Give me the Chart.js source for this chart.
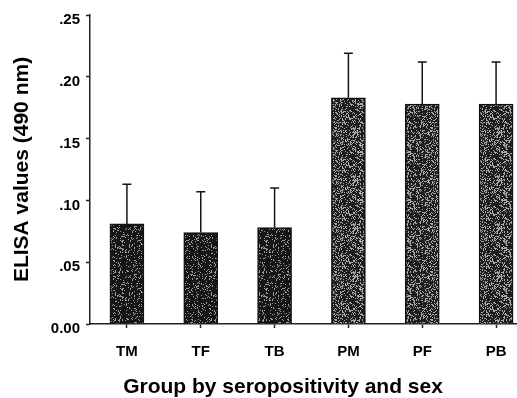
<!DOCTYPE html>
<html>
<head>
<meta charset="utf-8">
<script src="https://cdn.jsdelivr.net/npm/chart.js@4.4.1/dist/chart.umd.min.js"></script>
<style>
  html, body { margin: 0; padding: 0; background: #fff; overflow: hidden; }
  #wrap { width: 540px; height: 398px; }
</style>
</head>
<body>
<div id="wrap"><canvas id="elisaChart" width="540" height="398"></canvas></div>
<script>
// values
const groups = ['TM', 'TF', 'TB', 'PM', 'PF', 'PB'];
const elisaMeans = [0.081, 0.074, 0.078, 0.183, 0.178, 0.178];
const elisaErr = [0.032, 0.033, 0.032, 0.036, 0.034, 0.034];
const yTicks = [0, 0.05, 0.10, 0.15, 0.20, 0.25];
const yTickLabels = ['0.00', '.05', '.10', '.15', '.20', '.25'];
const yTitle = 'ELISA values (490 nm)';
const xTitle = 'Group by seropositivity and sex';

const fontFamily = '"Liberation Sans", Arial, sans-serif';
Chart.defaults.font.family = fontFamily;

// grainy fill like the scanned bars
function speckle(base, light, density) {
  const c = document.createElement('canvas');
  c.width = 48; c.height = 48;
  const g = c.getContext('2d');
  g.fillStyle = base;
  g.fillRect(0, 0, 48, 48);
  g.fillStyle = light;
  for (let y = 0; y < 48; y++) {
    for (let x = 0; x < 48; x++) {
      let h = (Math.imul(x, 73856093) ^ Math.imul(y, 19349663)) >>> 0;
      h = Math.imul(h ^ (h >>> 13), 1274126177) >>> 0;
      h = (h ^ (h >>> 16)) >>> 0;
      if ((h & 255) < density) g.fillRect(x, y, 1, 1);
    }
  }
  return g.createPattern(c, 'repeat');
}

const darkFill = speckle('#161616', '#9a9a9a', 40);
const lightFill = speckle('#1e1e1e', '#a8a8a8', 70);
const barFills = groups.map(g => g.startsWith('T') ? darkFill : lightFill);

const errorBars = {
  id: 'errorBars',
  afterDatasetsDraw(chart) {
    const { ctx, scales: { y } } = chart;
    const meta = chart.getDatasetMeta(0);
    ctx.save();
    ctx.strokeStyle = '#151515';
    ctx.lineWidth = 1.5;
    meta.data.forEach((bar, i) => {
      const top = y.getPixelForValue(elisaMeans[i] + elisaErr[i]);
      ctx.beginPath();
      ctx.moveTo(bar.x, bar.y);
      ctx.lineTo(bar.x, top);
      ctx.moveTo(bar.x - 4.5, top);
      ctx.lineTo(bar.x + 4.5, top);
      ctx.stroke();
    });
    // x axis title sits left of the plot centre in the original
    ctx.fillStyle = '#000';
    ctx.font = 'bold 21px ' + fontFamily;
    ctx.textAlign = 'center';
    ctx.textBaseline = 'alphabetic';
    ctx.fillText(xTitle, 283, 393);
    ctx.restore();
  }
};

new Chart(document.getElementById('elisaChart'), {
  type: 'bar',
  data: {
    labels: groups,
    datasets: [{
      data: elisaMeans,
      backgroundColor: barFills,
      borderColor: '#111',
      borderWidth: 1.5,
      barThickness: 34
    }]
  },
  options: {
    responsive: false,
    animation: false,
    layout: { padding: { left: 0, right: 7, top: 15, bottom: 0 } },
    plugins: {
      legend: { display: false },
      tooltip: { enabled: false }
    },
    scales: {
      x: {
        afterFit: s => { s.height = 74; },
        ticks: { color: '#000', font: { size: 15, weight: 'bold' }, padding: 15 },
        grid: { offset: false, drawOnChartArea: false, tickLength: 4, tickColor: '#222', tickWidth: 1.5 },
        border: { color: '#222', width: 1.5 }
      },
      y: {
        min: 0,
        max: 0.25,
        afterBuildTicks: s => { s.ticks = yTicks.map(v => ({ value: v })); },
        afterFit: s => { s.width = 90; },
        ticks: {
          color: '#000',
          font: { size: 15, weight: 'bold' },
          padding: 6,
          labelOffset: 5,
          callback: (v, i) => yTickLabels[i]
        },
        grid: { drawOnChartArea: false, tickLength: 4, tickColor: '#222', tickWidth: 1.5 },
        border: { color: '#222', width: 1.5 },
        title: {
          display: true,
          text: yTitle,
          color: '#000',
          font: { size: 21, weight: 'bold' },
          padding: { top: 10, bottom: 0 }
        }
      }
    }
  },
  plugins: [errorBars]
});
</script>
</body>
</html>
